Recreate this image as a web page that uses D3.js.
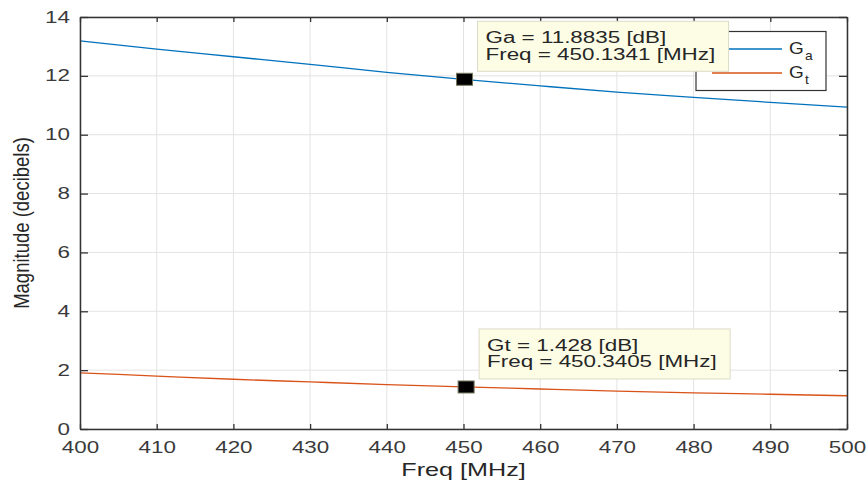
<!DOCTYPE html>
<html>
<head>
<meta charset="utf-8">
<script src="https://cdn.jsdelivr.net/npm/d3@7"></script>
<style>
  body { margin: 0; background: #fff; }
  svg { display: block; font-family: "Liberation Sans", Arial, sans-serif; }
</style>
</head>
<body>
<svg id="chart" width="868" height="484"></svg>
<script>
// values
const freq = [400, 410, 420, 430, 440, 450, 460, 470, 480, 490, 500];
const ga = [13.19, 12.91, 12.65, 12.39, 12.12, 11.88, 11.66, 11.45, 11.27, 11.10, 10.94];
const gt = [1.91, 1.80, 1.69, 1.60, 1.51, 1.43, 1.36, 1.29, 1.23, 1.18, 1.13];
const xTicks = [400, 410, 420, 430, 440, 450, 460, 470, 480, 490, 500];
const yTicks = [0, 2, 4, 6, 8, 10, 12, 14];
const tips = [
  { f: 450.1341, v: 11.8835, lines: ["Ga = 11.8835 [dB]", "Freq = 450.1341 [MHz]"] },
  { f: 450.3405, v: 1.428, lines: ["Gt = 1.428 [dB]", "Freq = 450.3405 [MHz]"] }
];
const series = [
  { name: "G", sub: "a", values: ga, color: "#0072BD" },
  { name: "G", sub: "t", values: gt, color: "#D95319" }
];

const SX = 1.4; // the reference is stretched sideways
const svg = d3.select("#chart");
const margin = { top: 17, right: 21, bottom: 55, left: 80 };
const width = 868 - margin.left - margin.right;
const height = 484 - margin.top - margin.bottom;
const g = svg.append("g").attr("transform", `translate(${margin.left},${margin.top})`);

const x = d3.scaleLinear().domain([400, 500]).range([0, width]);
const y = d3.scaleLinear().domain([0, 14]).range([height, 0]);

// grid
g.append("g").selectAll("line").data(xTicks).enter().append("line")
  .attr("x1", d => x(d)).attr("x2", d => x(d)).attr("y1", 0).attr("y2", height)
  .style("stroke", "#e3e3e3").style("stroke-width", 1);
g.append("g").selectAll("line").data(yTicks).enter().append("line")
  .attr("y1", d => y(d)).attr("y2", d => y(d)).attr("x1", 0).attr("x2", width)
  .style("stroke", "#e3e3e3").style("stroke-width", 1);

// curves
const line = d3.line().x((d, i) => x(freq[i])).y(d => y(d)).curve(d3.curveMonotoneX);
series.forEach(s => {
  g.append("path").datum(s.values).attr("d", line)
    .style("fill", "none").style("stroke", s.color).style("stroke-width", 1.3);
});

// axes
function styleAxis(sel) {
  sel.selectAll("path.domain").style("stroke", "#333").style("stroke-width", 1.5);
  sel.selectAll(".tick line").style("stroke", "#333").style("stroke-width", 1.3);
  sel.selectAll("text").style("fill", "#3a3a3a").style("font-size", "16px")
    .style("font-family", "'Liberation Sans', Arial, sans-serif");
}
const xAxis = g.append("g").attr("transform", `translate(0,${height})`)
  .call(d3.axisBottom(x).tickValues(xTicks).tickSizeInner(-5).tickSizeOuter(0));
styleAxis(xAxis);
xAxis.selectAll("text").attr("y", 0).attr("dy", 0)
  .attr("transform", `translate(0,23.5) scale(${SX},1)`);

const yAxis = g.append("g")
  .call(d3.axisLeft(y).tickValues(yTicks).tickSizeInner(-8).tickSizeOuter(0));
styleAxis(yAxis);
yAxis.selectAll("text").attr("x", 0)
  .attr("transform", `translate(-10,0) scale(${SX},1)`);

const topAxis = g.append("g")
  .call(d3.axisTop(x).tickValues(xTicks).tickSizeInner(-5).tickSizeOuter(0).tickFormat(""));
styleAxis(topAxis);
const rightAxis = g.append("g").attr("transform", `translate(${width},0)`)
  .call(d3.axisRight(y).tickValues(yTicks).tickSizeInner(-8).tickSizeOuter(0).tickFormat(""));
styleAxis(rightAxis);

// axis labels
svg.append("text")
  .attr("transform", `translate(${margin.left + width / 2},476) scale(${SX},1)`)
  .attr("text-anchor", "middle").style("font-size", "18px").style("fill", "#262626")
  .text("Freq [MHz]");
svg.append("text")
  .attr("transform", `translate(29,${margin.top + height / 2}) scale(1.2,1) rotate(-90)`)
  .attr("text-anchor", "middle").style("font-size", "18.5px").style("fill", "#262626")
  .text("Magnitude (decibels)");

// legend
const leg = g.append("g").attr("transform", `translate(${696 - margin.left},${31.5 - margin.top})`);
leg.append("rect").attr("width", 130).attr("height", 59)
  .style("fill", "#fff").style("stroke", "#333").style("stroke-width", 1.2);
series.forEach((s, i) => {
  const yy = 17.5 + i * 24;
  leg.append("line").attr("x1", 16).attr("x2", 86).attr("y1", yy).attr("y2", yy)
    .style("stroke", s.color).style("stroke-width", 1.3);
  const t = leg.append("text")
    .attr("transform", `translate(93,${yy + 5}) scale(1.15,1)`)
    .style("font-size", "16.5px").style("fill", "#262626");
  t.append("tspan").text(s.name);
  t.append("tspan").attr("dx", 1).attr("dy", 6).style("font-size", "12px").text(s.sub);
});

// data tips
tips.forEach(tp => {
  const px = x(tp.f), py = y(tp.v);
  g.append("rect").attr("x", px - 8).attr("y", py - 6).attr("width", 16).attr("height", 12)
    .style("fill", "#000").style("stroke", "#77775f").style("stroke-width", 1);
  const box = g.append("g").attr("transform", `translate(${px + 13},${py - 58})`);
  box.append("rect").attr("width", 251).attr("height", 50)
    .style("fill", "#fdfde6").style("stroke", "#dcdcc8").style("stroke-width", 1);
  tp.lines.forEach((l, i) => {
    box.append("text")
      .attr("transform", `translate(8,${22 + i * 16.5}) scale(${SX},1)`)
      .style("font-size", "16px").style("fill", "#262626").text(l);
  });
});
</script>
</body>
</html>
